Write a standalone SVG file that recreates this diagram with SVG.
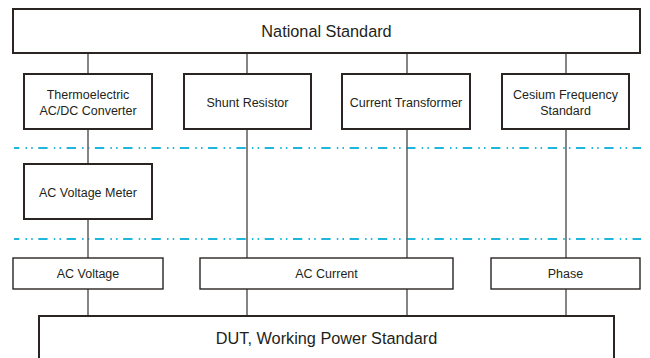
<svg xmlns="http://www.w3.org/2000/svg" width="650" height="358" viewBox="0 0 650 358">
<style>
.box{fill:#fff;stroke:#2a2422;stroke-width:2}
.thin{fill:#fff;stroke:#2a2422;stroke-width:1.4}
.conn{stroke:#666;stroke-width:1.6;fill:none}
.dd{stroke:#1fb6dc;stroke-width:2;fill:none;stroke-dasharray:9.3 6.2 1.5 4.2 1.5 5.6;stroke-dashoffset:4}
text{font-family:"Liberation Sans",Arial,sans-serif;fill:#231f20;text-anchor:middle}
.big{font-size:16.3px}
.sm{font-size:12.5px}
</style>
<rect width="650" height="358" fill="#fff"/>
<g id="separators">
<line class="dd" x1="14" y1="148" x2="641" y2="148"/>
<line class="dd" x1="14" y1="239" x2="641" y2="239"/>
</g>
<g id="connectors">
<line class="conn" x1="88" y1="53" x2="88" y2="316"/>
<line class="conn" x1="247" y1="53" x2="247" y2="316"/>
<line class="conn" x1="407" y1="53" x2="407" y2="316"/>
<line class="conn" x1="566" y1="53" x2="566" y2="316"/>
</g>
<g id="national">
<rect class="box" x="13" y="9" width="627" height="44"/>
<text class="big" x="326.5" y="37">National Standard</text>
</g>
<g id="thermo">
<rect class="box" x="24" y="74" width="128" height="55"/>
<text class="sm" x="88" y="99">Thermoelectric</text>
<text class="sm" x="88" y="115">AC/DC Converter</text>
</g>
<g id="shunt">
<rect class="box" x="184" y="74" width="127" height="55"/>
<text class="sm" x="247.5" y="107">Shunt Resistor</text>
</g>
<g id="ct">
<rect class="box" x="342" y="74" width="128" height="55"/>
<text class="sm" x="406" y="107">Current Transformer</text>
</g>
<g id="cesium">
<rect class="box" x="502" y="74" width="127" height="55"/>
<text class="sm" x="565.5" y="99">Cesium Frequency</text>
<text class="sm" x="565.5" y="115">Standard</text>
</g>
<g id="acvm">
<rect class="box" x="24" y="164" width="128" height="55"/>
<text class="sm" x="88" y="197">AC Voltage Meter</text>
</g>
<g id="acv">
<rect class="thin" x="13" y="258" width="150" height="31"/>
<text class="sm" x="88" y="278">AC Voltage</text>
</g>
<g id="aci">
<rect class="thin" x="200" y="258" width="253" height="31"/>
<text class="sm" x="326.5" y="278">AC Current</text>
</g>
<g id="phase">
<rect class="thin" x="491" y="258" width="149" height="31"/>
<text class="sm" x="565.5" y="278">Phase</text>
</g>
<g id="dut">
<rect class="box" x="39" y="316" width="575" height="60"/>
<text class="big" x="326.5" y="344">DUT, Working Power Standard</text>
</g>
</svg>
